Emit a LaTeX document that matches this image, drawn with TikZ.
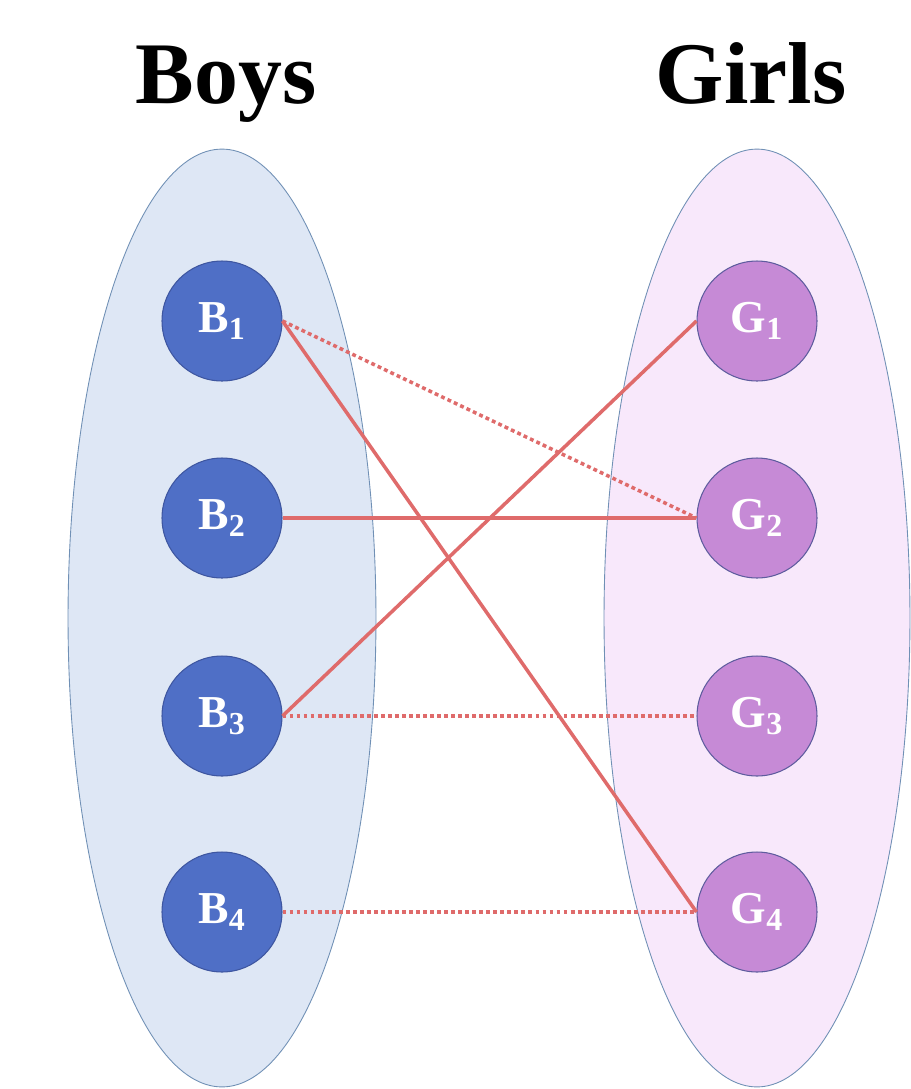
\documentclass[tikz,border=0pt]{standalone}
\usepackage{fontspec}
\setmainfont{Liberation Serif}
\definecolor{mtBoySet}{HTML}{DEE7F5}
\definecolor{mtGirlSet}{HTML}{F8E8FB}
\definecolor{mtSetLine}{HTML}{7090B5}
\definecolor{mtBoy}{HTML}{4F6FC6}
\definecolor{mtBoyRim}{HTML}{3E56A0}
\definecolor{mtGirl}{HTML}{C68AD6}
\definecolor{mtGirlRim}{HTML}{5E5C9E}
\definecolor{mtEdge}{HTML}{DF6B6B}
\tikzset{
  mt set/.style={draw=mtSetLine, line width=0.5pt},
  mt kid/.style={circle, minimum size=2.4cm, inner sep=0pt, line width=0.6pt, text=white, font=\fontsize{26}{26}\selectfont\bfseries},
  mt boy/.style={mt kid, fill=mtBoy, draw=mtBoyRim},
  mt girl/.style={mt kid, fill=mtGirl, draw=mtGirlRim},
  mt pair/.style={draw=mtEdge, line width=2pt},
  mt maybe/.style={mt pair, dash pattern=on 2.2pt off 1.8pt},
  mt title/.style={font=\fontsize{50}{50}\selectfont\bfseries, anchor=base},
}

\begin{document}
\begin{tikzpicture}[x=0.02cm,y=-0.02cm]
  \useasboundingbox (0,0) rectangle (910,1089);
  % the two sets
  \draw[mt set, fill=mtBoySet] (222,618) ellipse [x radius=3.08cm, y radius=9.38cm];
  \draw[mt set, fill=mtGirlSet] (757,618) ellipse [x radius=3.06cm, y radius=9.38cm];
  \node[mt title] (boys) at (226,103) {Boys};
  \node[mt title] (girls) at (751,103) {Girls};
  % members
  \foreach \i/\y in {1/321,2/518,3/716,4/912} {
    \node[mt boy] (b\i) at (222,\y) {B\textsubscript{\i}};
    \node[mt girl] (g\i) at (757,\y) {G\textsubscript{\i}};
  }
  % pairings
  \draw[mt maybe] (b1.east) -- (g2.west);
  \draw[mt pair] (b1.east) -- (g4.west);
  \draw[mt pair] (b2.east) -- (g2.west);
  \draw[mt pair] (b3.east) -- (g1.west);
  \draw[mt maybe] (b3.east) -- (g3.west);
  \draw[mt maybe] (b4.east) -- (g4.west);
\end{tikzpicture}
\end{document}
